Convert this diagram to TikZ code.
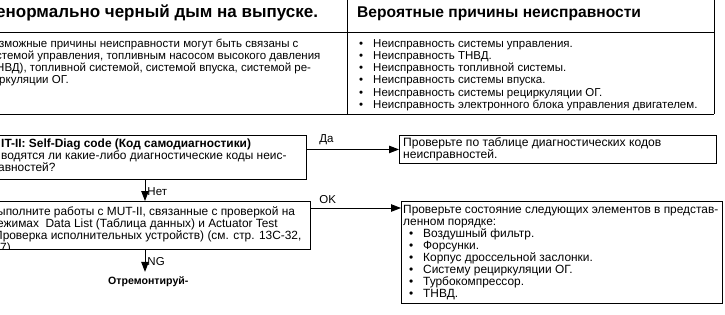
\documentclass[tikz,border=0pt]{standalone}
\usepackage{fontspec}
\setmainfont{Liberation Sans}
\usetikzlibrary{arrows.meta}
\newcommand{\bul}{\hspace*{6pt}\makebox[14pt][l]{\textbullet}}

\begin{document}
\begin{tikzpicture}[x=1pt,y=-1pt,
  frame/.style={draw,line width=0.9pt,inner sep=0pt,anchor=north west},
  txt/.style={inner sep=0pt,anchor=base west,align=left,font=\fontsize{11.5}{12.3}\selectfont},
  flow/.style={txt,font=\fontsize{11.9}{12}\selectfont},
  head/.style={inner sep=0pt,anchor=base west,font=\fontsize{15.6}{18}\selectfont\bfseries},
  lbl/.style={inner sep=0pt,font=\fontsize{11.5}{12.3}\selectfont},
  arr/.style={line width=0.9pt,-{Triangle[length=10pt,width=7.5pt]}}]
\useasboundingbox (0,0) rectangle (725,314);
\clip (0,0) rectangle (725,314);
\draw[line width=0.9pt] (-5,32) -- (714,32) (-5,114) -- (714,114);
\draw[line width=0.9pt] (347,-5) -- (347,114) (714,-5) -- (714,114);
\node[head,font=\fontsize{17}{18}\selectfont\bfseries] (symptom) at (-4,17.5) {енормально черный дым на выпуске.};
\node[head] (causes) at (357,17.5) {Вероятные причины неисправности};
\node[txt] (note) at (-1,83.9) {зможные причины неисправности могут быть связаны с\\
  \hspace*{-3pt}стемой управления, топливным насосом высокого давления\\
  \hspace*{-3pt}НВД), топливной системой, системой впуска, системой ре-\\
  ркуляции ОГ.};
\node[txt] (causelist) at (353,108.5) {\bul Неисправность системы управления.\\
  \bul Неисправность ТНВД.\\
  \bul Неисправность топливной системы.\\
  \bul Неисправность системы впуска.\\
  \bul Неисправность системы рециркуляции ОГ.\\
  \bul Неисправность электронного блока управления двигателем.};

\node[frame,minimum width=316,minimum height=44] (diag) at (-10,135) {};
\node[flow] (diagtxt) at (1,171) {\textbf{IT-II: Self-Diag code (Код самодиагностики)}\\
  водятся ли какие-либо диагностические коды неис-\\
  \hspace*{-3pt}авностей?};
\node[frame,minimum width=317,minimum height=28] (table) at (399,135) {};
\node[flow,font=\fontsize{12.1}{12}\selectfont] (tabletxt) at (403,158.5) {Проверьте по таблице диагностических кодов\\
  неисправностей.};
\node[frame,minimum width=320,minimum height=48] (mut) at (-10,201) {};
\begin{scope}
\clip (mut.north west) rectangle (mut.south east);
\node[flow] (muttxt) at (-3,251) {ыполните работы с MUT-II, связанные с проверкой на\\
  ежимах\ \ Data List (Таблица данных) и Actuator Test\\
  \hspace*{-3pt}Проверка исполнительных устройств) (см. стр. 13С-32,\\
  \hspace*{3pt}7)};
\end{scope}
\node[frame,minimum width=321,minimum height=102] (check) at (401,201) {};
\node[flow] (checktxt) at (403,297) {Проверьте состояние следующих элементов в представ-\\
  ленном порядке:\\
  \bul Воздушный фильтр.\\
  \bul Форсунки.\\
  \bul Корпус дроссельной заслонки.\\
  \bul Систему рециркуляции ОГ.\\
  \bul Турбокомпрессор.\\
  \bul ТНВД.};
\node[txt,font=\fontsize{10.6}{12}\selectfont\bfseries] (repair) at (108,284) {Отремонтируй-};

\coordinate (down) at (145,0);
\draw[arr] (diag.east |- table.west) -- node[lbl,pos=0,anchor=south west,xshift=12pt,yshift=4pt]{Да} (table.west);
\draw[arr] (diag.south -| down) -- node[lbl,pos=0.55,anchor=west,xshift=2pt]{Нет} (mut.north -| down);
\draw[arr] ([yshift=-7pt]mut.north east) -- node[lbl,pos=0,anchor=south west,xshift=8pt,yshift=4pt]{OK} ([yshift=-7pt]mut.north east -| check.west);
\draw[arr,shorten >=4pt] (mut.south -| down) -- node[lbl,pos=0.45,anchor=west,xshift=2pt]{NG} (repair.north -| down);
\end{tikzpicture}
\end{document}
